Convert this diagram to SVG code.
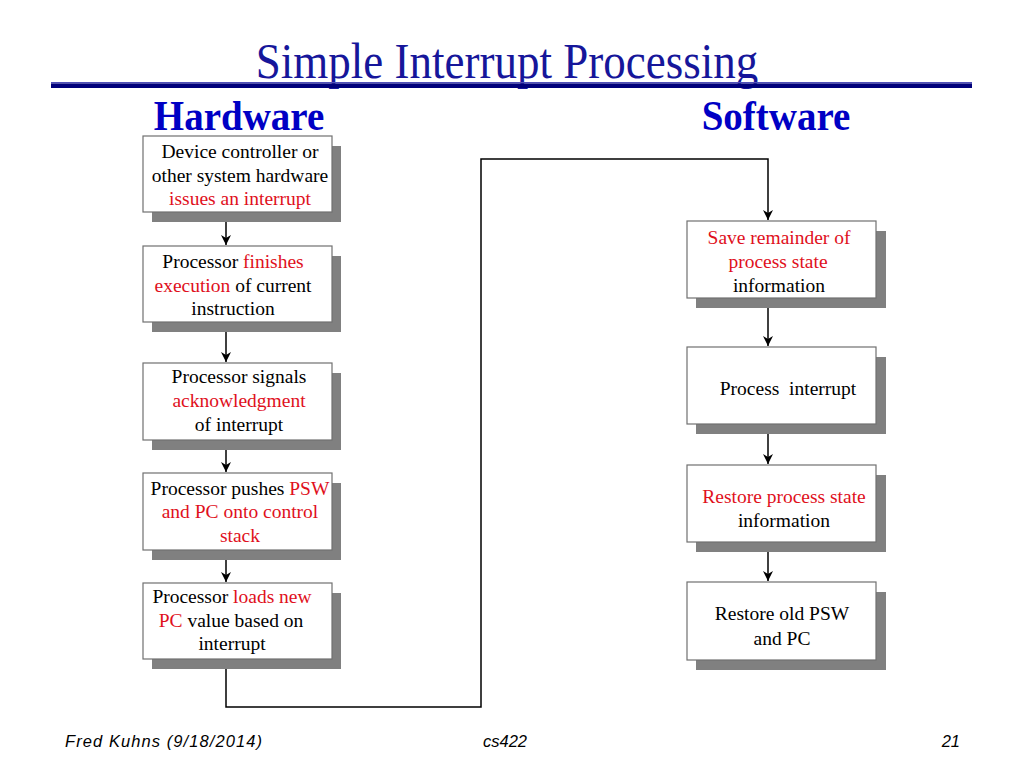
<svg xmlns="http://www.w3.org/2000/svg" width="1024" height="768" viewBox="0 0 1024 768">
<defs>
<style>
.sh{fill:#808080}
.bx{fill:#ffffff;stroke:#707070;stroke-width:1.2}
.t{font-family:"Liberation Serif","Times New Roman",serif;font-size:19.5px;fill:#000;text-anchor:middle}
.r{fill:#e0101c}
.ln{fill:none;stroke:#000;stroke-width:1.5}
.ft{font-family:"Liberation Sans",Arial,sans-serif;font-style:italic;font-size:16.5px;fill:#000}
</style>
<marker id="ah" markerUnits="userSpaceOnUse" markerWidth="12" markerHeight="12" viewBox="0 0 12 12" refX="10" refY="6" orient="auto">
<path d="M0,1 L10,6 L0,11 L3,6 Z" fill="#000"/>
</marker>
</defs>
<rect width="1024" height="768" fill="#fff"/>
<g id="title">
<text transform="translate(507,78) scale(1,1.12)" font-family="'Liberation Serif','Times New Roman',serif" font-size="45" fill="#16169a" text-anchor="middle">Simple Interrupt Processing</text>
<rect x="51" y="82" width="921" height="1.5" fill="#5050b8"/>
<rect x="51" y="83.5" width="921" height="4.5" fill="#00007a"/>
</g>
<g id="headings" font-family="'Liberation Serif','Times New Roman',serif" font-weight="bold" font-size="39" fill="#0000c4" text-anchor="middle">
<text transform="translate(239,130) scale(1,1.08)">Hardware</text>
<text transform="translate(776,130) scale(1,1.08)">Software</text>
</g>
<g id="connectors">
<line class="ln" x1="226" y1="222" x2="226" y2="245" marker-end="url(#ah)"/>
<line class="ln" x1="226" y1="332" x2="226" y2="362" marker-end="url(#ah)"/>
<line class="ln" x1="226" y1="450" x2="226" y2="472" marker-end="url(#ah)"/>
<line class="ln" x1="226" y1="560" x2="226" y2="582" marker-end="url(#ah)"/>
<path class="ln" d="M226,669 L226,707 L481,707 L481,159 L768,159 L768,220" marker-end="url(#ah)"/>
<line class="ln" x1="768" y1="308" x2="768" y2="346" marker-end="url(#ah)"/>
<line class="ln" x1="768" y1="434" x2="768" y2="464" marker-end="url(#ah)"/>
<line class="ln" x1="768" y1="552" x2="768" y2="581" marker-end="url(#ah)"/>
</g>
<g id="hw1">
<rect class="sh" x="152" y="146" width="189" height="76"/>
<rect class="bx" x="143" y="136" width="189" height="76"/>
<text class="t" x="240" y="158">Device controller or</text>
<text class="t" x="240" y="182">other system hardware</text>
<text class="t r" x="240" y="205">issues an interrupt</text>
</g>
<g id="hw2">
<rect class="sh" x="152" y="256" width="189" height="76"/>
<rect class="bx" x="143" y="246" width="189" height="76"/>
<text class="t" x="233" y="268">Processor <tspan class="r">finishes</tspan></text>
<text class="t" x="233" y="292"><tspan class="r">execution</tspan> of current</text>
<text class="t" x="233" y="315">instruction</text>
</g>
<g id="hw3">
<rect class="sh" x="152" y="373" width="189" height="77"/>
<rect class="bx" x="143" y="363" width="189" height="77"/>
<text class="t" x="239" y="383">Processor signals</text>
<text class="t r" x="239" y="407">acknowledgment</text>
<text class="t" x="239" y="431">of interrupt</text>
</g>
<g id="hw4">
<rect class="sh" x="152" y="483" width="189" height="77"/>
<rect class="bx" x="143" y="473" width="189" height="77"/>
<text class="t" x="240" y="495">Processor pushes <tspan class="r">PSW</tspan></text>
<text class="t r" x="240" y="518">and PC onto control</text>
<text class="t r" x="240" y="542">stack</text>
</g>
<g id="hw5">
<rect class="sh" x="152" y="593" width="189" height="76"/>
<rect class="bx" x="143" y="583" width="189" height="76"/>
<text class="t" x="232" y="603">Processor <tspan class="r">loads new</tspan></text>
<text class="t" x="231" y="627"><tspan class="r">PC</tspan> value based on</text>
<text class="t" x="232" y="650">interrupt</text>
</g>
<g id="sw1">
<rect class="sh" x="696" y="231" width="190" height="77"/>
<rect class="bx" x="687" y="221" width="189" height="77"/>
<text class="t r" x="779" y="244">Save remainder of</text>
<text class="t r" x="778" y="268">process state</text>
<text class="t" x="779" y="292">information</text>
</g>
<g id="sw2">
<rect class="sh" x="696" y="357" width="190" height="77"/>
<rect class="bx" x="687" y="347" width="189" height="77"/>
<text class="t" x="788" y="395" xml:space="preserve">Process  interrupt</text>
</g>
<g id="sw3">
<rect class="sh" x="696" y="475" width="190" height="77"/>
<rect class="bx" x="687" y="465" width="189" height="77"/>
<text class="t r" x="784" y="503">Restore process state</text>
<text class="t" x="784" y="527">information</text>
</g>
<g id="sw4">
<rect class="sh" x="696" y="592" width="190" height="78"/>
<rect class="bx" x="687" y="582" width="189" height="78"/>
<text class="t" x="782" y="620">Restore old PSW</text>
<text class="t" x="782" y="645">and PC</text>
</g>
<g id="footer">
<text class="ft" x="65" y="747" textLength="197" lengthAdjust="spacing">Fred Kuhns (9/18/2014)</text>
<text class="ft" x="505" y="747" text-anchor="middle">cs422</text>
<text class="ft" x="960" y="747" text-anchor="end">21</text>
</g>
</svg>
